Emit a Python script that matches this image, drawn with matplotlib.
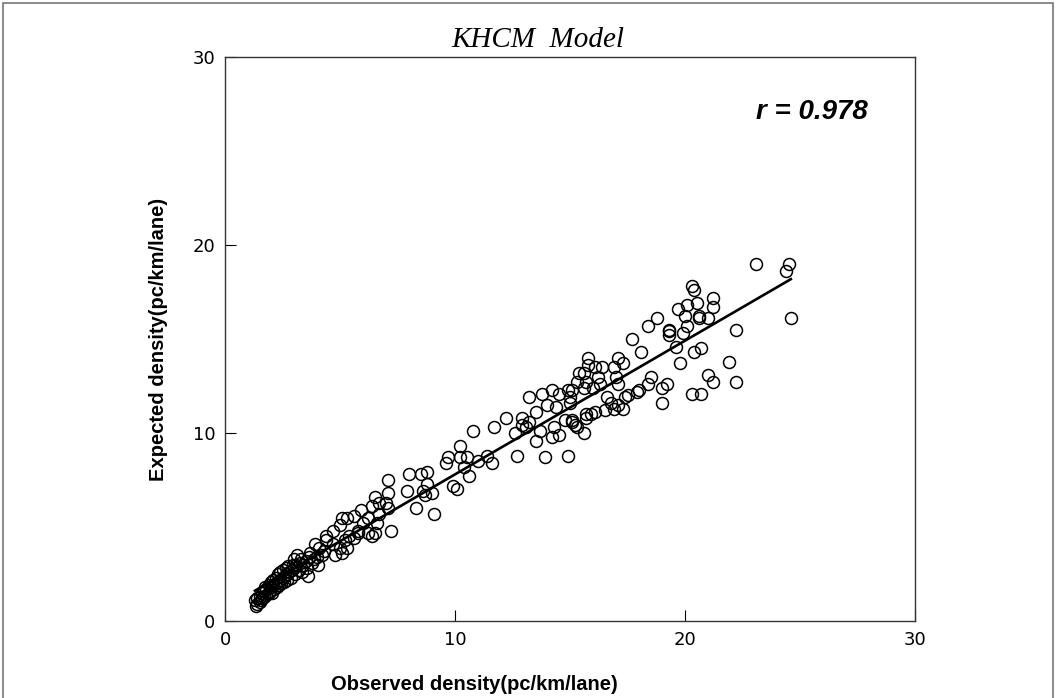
#!/usr/bin/env python3
# KHCM model: observed vs expected density scatter with fitted line
import numpy as np
import matplotlib
matplotlib.use("Agg")
import matplotlib.pyplot as plt
from matplotlib.patches import Rectangle

# observed density (pc/km/lane)
obs = [
    1.3, 1.35, 1.4, 1.4, 1.5, 1.5, 1.55, 1.6, 1.6, 1.7, 1.7, 1.75, 1.8, 1.8, 1.9, 1.9,
    1.95, 2.0, 2.0, 2.05, 2.1, 2.1, 2.15, 2.2, 2.2, 2.25, 2.3, 2.3, 2.35, 2.4, 2.4, 2.45,
    2.5, 2.5, 2.55, 2.6, 2.65, 2.7, 2.7, 2.75, 2.8, 2.85, 2.9, 2.95, 3.0, 3.0, 3.05, 3.1,
    3.15, 3.2, 3.25, 3.3, 3.35, 3.4, 3.5, 3.55, 3.6, 3.65, 3.7, 3.8, 3.85, 3.9, 4.0, 4.05,
    4.1, 4.2, 4.3, 4.4, 4.4,
    4.7, 4.7, 5.0, 4.8, 5.1, 5.0, 5.1, 5.3, 5.6, 5.9, 5.2, 5.4, 5.6, 5.8, 5.8, 6.2,
    6.5, 6.4, 6.2, 6.6, 6.4, 6.7, 6.5, 6.7, 7.0, 7.1, 7.1, 7.1, 7.2, 7.9, 8.0, 8.3,
    8.5, 8.6, 8.7, 8.8, 8.8, 9.0, 9.1, 5.3, 6.0,
    9.6, 9.7, 9.9, 10.1, 10.2, 10.2, 10.4, 10.5, 10.6, 10.8, 11.0, 11.4, 11.6, 11.7,
    12.2, 12.6, 12.7, 12.9, 12.9, 13.1, 13.2, 13.2, 13.5, 13.5, 13.7, 13.8, 13.9, 14.0,
    14.2, 14.2, 14.3, 14.4, 14.5, 14.5, 14.8, 14.9, 14.9, 15.0, 15.0, 15.1, 15.1, 15.1,
    15.2, 15.3, 15.3, 15.4, 15.6, 15.6, 15.6, 15.7, 15.7, 15.7, 15.8, 15.8, 15.9, 16.0,
    16.1, 16.1, 16.2, 16.3, 16.4, 16.5, 16.6, 16.8, 16.9, 16.9, 17.0, 17.1, 17.1, 17.1,
    17.3, 17.3, 17.4, 17.5, 17.7, 17.9, 18.0,
    18.1, 18.4, 18.4, 18.5, 18.8, 19.0, 19.0, 19.2, 19.3, 19.3, 19.3, 19.6, 19.7, 19.8,
    20.0, 19.9, 20.1, 20.1, 20.3, 20.3, 20.4, 20.4, 20.5, 20.6, 20.6, 20.7, 20.7, 21.0,
    21.0, 21.2, 21.2, 21.2, 21.9, 22.2, 22.2, 23.1, 24.4, 24.5, 24.6,
]

# expected density (pc/km/lane)
exp = [
    1.1, 0.8, 0.9, 1.2, 1.0, 1.3, 1.1, 1.5, 1.2, 1.3, 1.6, 1.8, 1.4, 1.7, 1.5, 1.9,
    1.6, 1.8, 2.1, 1.5, 1.9, 2.2, 1.7, 2.0, 2.3, 1.8, 2.1, 2.5, 1.9, 2.2, 2.6, 2.0,
    2.3, 2.7, 2.1, 2.4, 2.8, 2.2, 2.5, 2.9, 2.6, 2.3, 2.7, 3.0, 2.8, 3.3, 2.5, 3.0,
    3.5, 2.7, 3.1, 3.3, 2.6, 3.0, 3.2, 2.8, 2.4, 3.4, 3.6, 3.1, 3.3, 4.1, 3.4, 3.0,
    3.9, 3.5, 3.7, 4.5, 4.3,
    4.8, 4.1, 3.9, 3.5, 3.6, 5.1, 5.5, 5.5, 5.6, 5.9, 4.3, 4.5, 4.4, 4.8, 4.7, 4.7,
    4.7, 4.5, 5.5, 5.2, 6.1, 5.7, 6.6, 6.3, 6.3, 6.0, 6.8, 7.5, 4.8, 6.9, 7.8, 6.0,
    7.8, 6.9, 6.7, 7.9, 7.3, 6.8, 5.7, 3.9, 5.2,
    8.4, 8.7, 7.2, 7.0, 9.3, 8.7, 8.2, 8.7, 7.7, 10.1, 8.5, 8.8, 8.4, 10.3,
    10.8, 10.0, 8.8, 10.8, 10.4, 10.3, 11.9, 10.6, 11.1, 9.6, 10.1, 12.1, 8.7, 11.5,
    12.3, 9.8, 10.3, 11.4, 12.1, 9.9, 10.7, 12.3, 8.8, 11.9, 11.6, 10.6, 12.3, 10.7,
    10.4, 12.7, 10.3, 13.2, 13.2, 12.4, 10.0, 12.7, 11.0, 10.8, 14.0, 13.6, 11.0, 12.4,
    13.5, 11.1, 13.0, 12.6, 13.5, 11.2, 11.9, 11.6, 13.5, 11.3, 13.0, 14.0, 12.6, 11.5,
    13.7, 11.3, 11.9, 12.0, 15.0, 12.2, 12.3,
    14.3, 15.7, 12.6, 13.0, 16.1, 12.4, 11.6, 12.6, 15.5, 15.2, 15.4, 14.6, 16.6, 13.7,
    16.2, 15.3, 16.8, 15.7, 17.8, 12.1, 17.6, 14.3, 16.9, 16.2, 16.1, 14.5, 12.1, 16.1,
    13.1, 17.2, 16.7, 12.7, 13.8, 15.5, 12.7, 19.0, 18.6, 19.0, 16.1,
]

x = np.array(obs)
y = np.array(exp)
r_text = "r = 0.978"

fig = plt.figure(figsize=(10.56, 6.98), dpi=100)
ax = fig.add_axes([0.2131, 0.1103, 0.6534, 0.808])

ax.plot(x, y, "o", mfc="none", mec="black", ms=8.6, mew=1.1, ls="none")

# least squares fit drawn over the data range
slope, icpt = np.polyfit(x, y, 1)
xs = np.array([x.min(), x.max()])
ax.plot(xs, slope * xs + icpt, color="black", lw=1.9)

ax.set_xlim(0, 30)
ax.set_ylim(0, 30)
ax.set_xticks([0, 10, 20, 30])
ax.set_yticks([0, 10, 20, 30])
ax.tick_params(direction="in", length=8, width=0.8, top=False, right=False,
               pad=7, labelsize=13)
for sp in ax.spines.values():
    sp.set_linewidth(1.0)
    sp.set_color("#333333")

ax.set_xlabel("Observed density(pc/km/lane)", fontsize=14.5, fontweight="bold",
              family="Liberation Sans")
ax.xaxis.set_label_coords(0.362, -0.095)
ax.set_ylabel("Expected density(pc/km/lane)", fontsize=14.5, fontweight="bold",
              family="Liberation Sans")
ax.yaxis.set_label_coords(-0.082, 0.5)

ax.text(25.5, 27.1, r_text, fontsize=20, fontweight="bold", fontstyle="italic",
        family="Liberation Sans", ha="center", va="center")

fig.text(0.509, 0.942, "KHCM  Model", fontsize=21, fontstyle="italic",
         family="Liberation Serif", ha="center", va="center")

# grey frame round the figure
fig.patches.append(Rectangle((0.003, -0.02), 0.994, 1.016, transform=fig.transFigure,
                             fill=False, edgecolor="#777777", lw=1.2))

fig.savefig("out.png", dpi=100)
